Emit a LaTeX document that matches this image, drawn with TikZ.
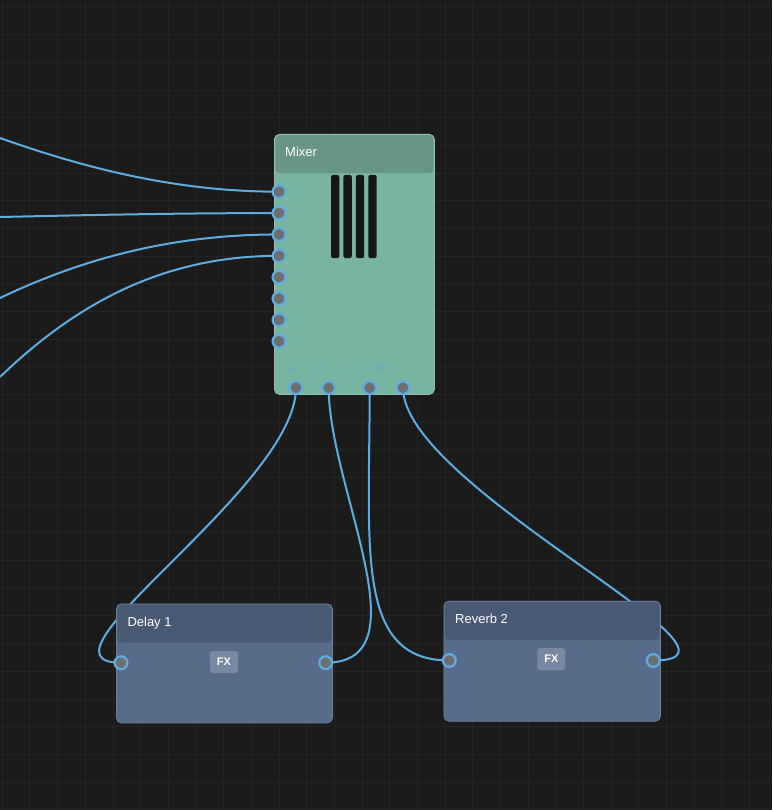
\documentclass[tikz,border=0pt]{standalone}
\usepackage{fontspec}
\setmainfont{Liberation Sans}

\definecolor{bgcol}{HTML}{1B1B1B}
\definecolor{gridcol}{HTML}{242424}
\definecolor{wireblue}{HTML}{5DADE2}
\definecolor{portgray}{HTML}{6E6E6E}
\definecolor{mixbody}{HTML}{79B4A2}
\definecolor{mixhead}{HTML}{679686}
\definecolor{mixedge}{HTML}{8DC3B2}
\definecolor{fxbody}{HTML}{576B8A}
\definecolor{fxhead}{HTML}{485A73}
\definecolor{fxedge}{HTML}{6C7F9D}
\definecolor{badgecol}{HTML}{7888A2}
\definecolor{barcol}{HTML}{161616}
\definecolor{labcol}{HTML}{5AAFC8}

\pgfdeclarelayer{bg}
\pgfdeclarelayer{wires}
\pgfsetlayers{bg,wires,main}

\begin{document}
\begin{tikzpicture}[x=1pt,y=-1pt,
    wire/.style={draw=wireblue, line width=2pt},
    port/.style={circle, fill=portgray, draw=wireblue, line width=2.2pt,
      minimum size=12.8pt, inner sep=0pt},
    mixbox/.style={fill=mixbody, draw=mixedge, line width=0.8pt,
      rounded corners=5pt, inner sep=0pt},
    fxbox/.style={fill=fxbody, draw=fxedge, line width=0.8pt,
      rounded corners=5pt, inner sep=0pt},
    head/.style={rounded corners=4pt, inner sep=0pt},
    title/.style={text=white, font=\fontsize{13}{15}\selectfont, inner sep=0pt},
    badge/.style={fill=badgecol, rounded corners=3pt, text=white,
      font=\fontsize{11}{13}\selectfont\bfseries, minimum width=28pt,
      minimum height=22pt, inner sep=0pt},
    plabel/.style={text=labcol, font=\fontsize{9.5}{10}\selectfont, inner sep=0pt}
  ]
  \useasboundingbox (0,0) rectangle (772,810);

  % background and grid
  \begin{pgfonlayer}{bg}
    \fill[bgcol] (0,0) rectangle (772,810);
    \foreach \i in {0,...,27}
      \draw[gridcol, line width=1pt] ({2.3+27.68*\i},0) -- ({2.3+27.68*\i},810);
    \foreach \i in {0,...,29}
      \draw[gridcol, line width=1pt] (0,{7+27.68*\i}) -- (772,{7+27.68*\i});
  \end{pgfonlayer}

  % Mixer
  \node[mixbox, anchor=north west, minimum width=160pt, minimum height=260pt]
    (mixer) at (274,134) {};
  \node[head, fill=mixhead, anchor=north, minimum width=158pt, minimum height=38pt]
    (mixer-head) at ([yshift=-1pt]mixer.north) {};
  \node[title, anchor=base west] (mixer-title) at (285,157) {Mixer};
  \foreach \i in {0,...,3}
    \fill[barcol, rounded corners=2pt] ({331+12.45*\i},175) rectangle ++(8.3,83);
  \foreach \k in {1,...,8}
    \node[port] (mx-in\k) at (279,{191.7+21.37*(\k-1)}) {};
  \foreach \n/\x/\lab/\lx in {1/296/1L/291.7, 2/328.7/1R/319.3,
                              3/369.7/2L/354, 4/403/2R/381.3} {
    \node[plabel] (mx-lab\n) at (\lx,368.5) {\lab};
    \node[port] (mx-out\n) at (\x,387.7) {};
  }

  % Delay 1
  \node[fxbox, anchor=north west, minimum width=216pt, minimum height=119pt]
    (delay) at (116,603.5) {};
  \node[head, fill=fxhead, anchor=north, minimum width=214pt, minimum height=38pt]
    (delay-head) at ([yshift=-1pt]delay.north) {};
  \node[title, anchor=base west] (delay-title) at (127.3,626.7) {Delay 1};
  \node[badge] (delay-fx) at (224,662) {FX};
  \node[port] (dl-in) at (121,662.7) {};
  \node[port] (dl-out) at (325.7,662.7) {};

  % Reverb 2
  \node[fxbox, anchor=north west, minimum width=216.5pt, minimum height=120pt]
    (reverb) at (443.5,600.8) {};
  \node[head, fill=fxhead, anchor=north, minimum width=214.5pt, minimum height=38pt]
    (reverb-head) at ([yshift=-1pt]reverb.north) {};
  \node[title, anchor=base west] (reverb-title) at (455,623.3) {Reverb 2};
  \node[badge] (reverb-fx) at (551.3,659.2) {FX};
  \node[port] (rv-in) at (449.3,660.5) {};
  \node[port] (rv-out) at (653.3,660.5) {};

  % loose ends on the left
  \coordinate (src1) at (0,138);
  \coordinate (src2) at (0,217);
  \coordinate (src3) at (0,298);
  \coordinate (src4) at (0,377);

  % wires, behind the nodes
  \begin{pgfonlayer}{wires}
    \draw[wire] (src1) .. controls +(90,32) and +(-99,0) .. (mx-in1.center);
    \draw[wire] (src2) .. controls +(90,-2) and +(-99,0) .. (mx-in2.center);
    \draw[wire] (src3) .. controls +(90,-43) and +(-99,0) .. (mx-in3.center);
    \draw[wire] (src4) .. controls +(90,-87) and +(-99,0) .. (mx-in4.center);
    \draw[wire] (mx-out1.center) .. controls +(0,100) and +(-100,0) .. (dl-in.center);
    \draw[wire] (mx-out2.center) .. controls +(0,100) and +(100,0) .. (dl-out.center);
    \draw[wire] (mx-out3.center) .. controls +(0,160) and +(-95,0) .. (rv-in.center);
    \draw[wire] (mx-out4.center) .. controls +(0,100) and +(125,0) .. (rv-out.center);
  \end{pgfonlayer}
\end{tikzpicture}
\end{document}
